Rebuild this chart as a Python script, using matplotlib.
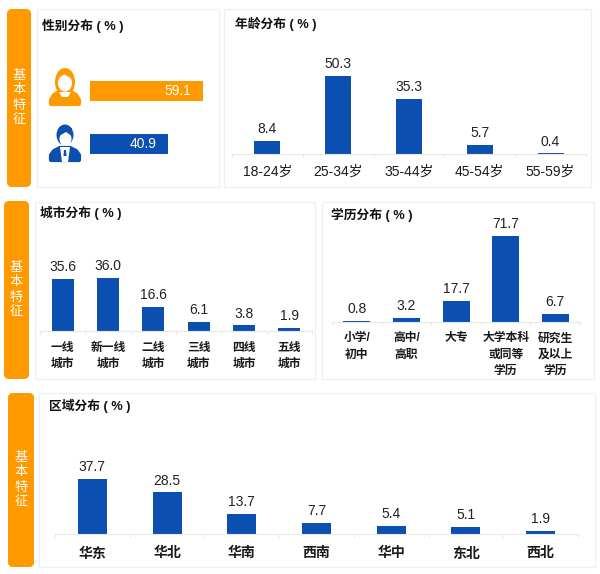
import matplotlib
matplotlib.use('Agg')
import matplotlib.pyplot as plt
from matplotlib.patches import FancyBboxPatch, Rectangle, Ellipse, Polygon

plt.rcParams['font.family'] = ['Liberation Sans', 'Noto Sans CJK SC']

ORANGE = '#FF9900'
BLUE = '#0B50B0'
W, H = 600, 574

gender_values = [59.1, 40.9]

age_labels = ['18-24岁', '25-34岁', '35-44岁', '45-54岁', '55-59岁']
age_values = [8.4, 50.3, 35.3, 5.7, 0.4]

city_labels = ['一线\n城市', '新一线\n城市', '二线\n城市', '三线\n城市', '四线\n城市', '五线\n城市']
city_values = [35.6, 36.0, 16.6, 6.1, 3.8, 1.9]

edu_labels = ['小学/\n初中', '高中/\n高职', '大专', '大学本科\n或同等\n学历', '研究生\n及以上\n学历']
edu_values = [0.8, 3.2, 17.7, 71.7, 6.7]

region_labels = ['华东', '华北', '华南', '西南', '华中', '东北', '西北']
region_values = [37.7, 28.5, 13.7, 7.7, 5.4, 5.1, 1.9]

fig = plt.figure(figsize=(W / 100, H / 100), dpi=100)

# overlay in pixel coordinates for the cards, tabs and icons
bg = fig.add_axes([0, 0, 1, 1])
bg.set_xlim(0, W)
bg.set_ylim(H, 0)
bg.axis('off')


def card(x0, y0, x1, y1):
    bg.add_patch(Rectangle((x0, y0), x1 - x0, y1 - y0, fc='white', ec='#F0F0F0', lw=1))


def tab(x0, y0, x1, y1):
    bg.add_patch(FancyBboxPatch((x0 + 5, y0 + 5), x1 - x0 - 10, y1 - y0 - 10,
                                boxstyle='round,pad=5,rounding_size=5', fc=ORANGE, ec='none'))
    xc = (x0 + x1) / 2
    yc = (y0 + y1) / 2
    for i, ch in enumerate('基本特征'):
        bg.text(xc, yc + (i - 1.5) * 15, ch, color='white', fontsize=9.5, fontweight=500,
                ha='center', va='center')


def title(x, y, s):
    bg.text(x, y, s, fontsize=9.2, fontweight='bold', color='#111111', ha='left', va='center')


def bar_panel(x0, x1, base, px_per_unit, labels, values, width_px, fontsize, bold, pad, linespacing=1.45):
    top = base - 150
    ax = fig.add_axes([x0 / W, 1 - base / H, (x1 - x0) / W, (base - top) / H])
    ax.patch.set_alpha(0)
    n = len(values)
    pos = list(range(n))
    bars = ax.bar(pos, values, width=width_px / ((x1 - x0) / n), color=BLUE)
    ax.set_xlim(-0.5, n - 0.5)
    ax.set_ylim(0, (base - top) / px_per_unit)
    ax.bar_label(bars, labels=['%.1f' % v for v in values], padding=3.5, fontsize=10, color='#222222')
    for s in ['top', 'left', 'right']:
        ax.spines[s].set_visible(False)
    ax.spines['bottom'].set_color('#E8E8E8')
    ax.set_yticks([])
    ax.set_xticks(pos)
    ax.set_xticklabels(labels, fontsize=fontsize, fontweight='bold' if bold else 'normal',
                       color='#1A1A1A', linespacing=linespacing)
    ax.tick_params(axis='x', which='major', length=0, pad=pad)
    ax.set_xticks([i - 0.5 for i in range(n + 1)], minor=True)
    ax.tick_params(axis='x', which='minor', length=2, color='#E8E8E8', width=0.8)
    return ax


card(37, 9, 219, 187)
card(224, 9, 591, 187)
card(35, 202, 315, 379)
card(322, 202, 594, 379)
card(39, 393, 595, 567)

tab(7, 9, 31, 187)
tab(4, 201, 29, 379)
tab(8, 393, 34, 567)

title(42, 26, '性别分布 ( % )')
title(235, 24, '年龄分布 ( % )')
title(40, 213, '城市分布 ( % )')
title(331, 215, '学历分布 ( % )')
title(49, 406, '区域分布 ( % )')

# gender bars
gx = fig.add_axes([90 / W, 1 - 160 / H, 130 / W, 85 / H])
gx.patch.set_alpha(0)
gb = gx.barh([1, 0], gender_values, height=20 / 53, color=[ORANGE, BLUE])
gx.set_xlim(0, 130 / 1.913)
gx.set_ylim(-0.304, 1.3)
gx.axis('off')
gx.bar_label(gb, labels=['%.1f' % v for v in gender_values], label_type='edge', padding=-28,
             color='white', fontsize=10)

# female icon
bg.add_patch(Ellipse((65, 82), 20, 28, fc=ORANGE, ec='none'))
bg.add_patch(Polygon([[51, 104], [51, 100], [54, 95], [59, 92], [71, 92], [76, 95], [79, 100], [79, 104]],
                     fc=ORANGE, ec=ORANGE, lw=3, joinstyle='round'))
bg.add_patch(Ellipse((65, 83), 14, 17, fc='white', ec='none'))
bg.add_patch(Polygon([[58, 79], [64, 74], [72, 79], [72, 74], [58, 74]], fc=ORANGE, ec='none'))
bg.add_patch(Polygon([[59, 92], [71, 92], [68, 97], [62, 97]], fc='white', ec='none'))

# male icon
bg.add_patch(Ellipse((65, 135), 17, 21, fc=BLUE, ec='none'))
bg.add_patch(Ellipse((65.5, 139), 12, 15, fc='white', ec='none'))
bg.add_patch(Polygon([[59, 136], [66, 132], [72, 136], [72, 128], [59, 128]], fc=BLUE, ec='none'))
bg.add_patch(Polygon([[51, 160], [51, 155], [54, 151], [60, 148], [70, 148], [76, 151], [79, 155], [79, 160]],
                     fc=BLUE, ec=BLUE, lw=3, joinstyle='round'))
bg.add_patch(Polygon([[60, 147], [70, 147], [68, 162], [62, 162]], fc='white', ec='none'))
bg.add_patch(Polygon([[64, 150], [66, 150], [66.5, 156], [63.5, 156]], fc=BLUE, ec='none'))

bar_panel(232, 586, 154, 1.56, age_labels, age_values, 26, 10, False, 8)
bar_panel(40, 312, 331, 1.47, city_labels, city_values, 22, 8.5, True, 8)
bar_panel(332, 580, 322, 1.2, edu_labels, edu_values, 27, 8.5, True, 7.5)
bar_panel(55, 578, 534, 1.46, region_labels, region_values, 29, 10, True, 9)

fig.savefig('out.png', dpi=100)
